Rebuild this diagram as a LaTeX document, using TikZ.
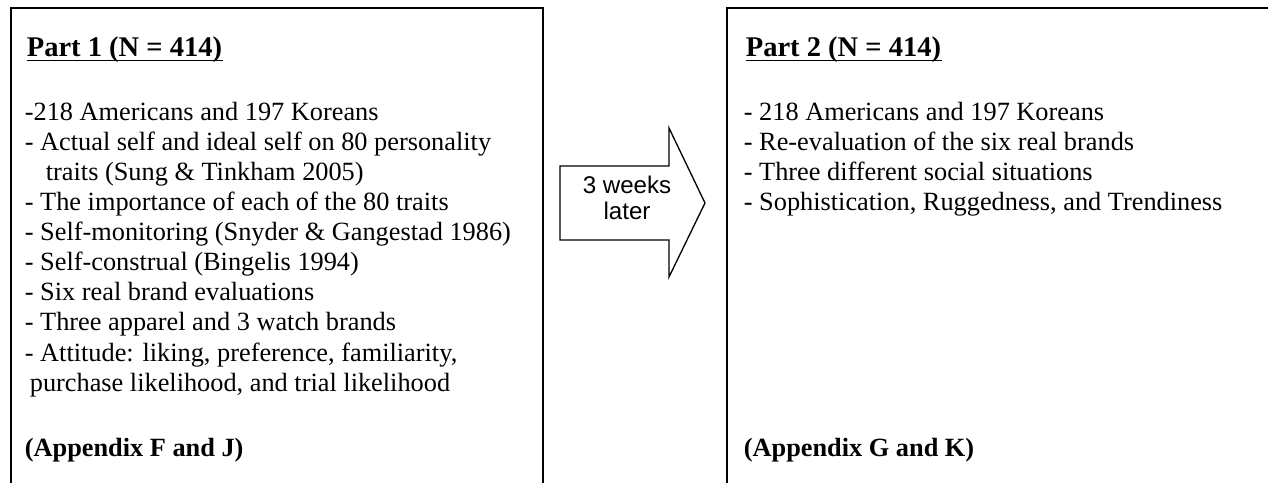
\documentclass[tikz,border=0pt]{standalone}
\usepackage{fontspec}
\setmainfont{Liberation Serif}
\newfontfamily\arialfont{Liberation Sans}
\usetikzlibrary{positioning, calc}

\tikzset{
    parthead/.style={anchor=base west, inner sep=0pt, font=\fontsize{13}{15}\selectfont\bfseries},
    listline/.style={anchor=base west, inner sep=0pt, font=\fontsize{12}{14}\selectfont},
    appendix/.style={listline, font=\fontsize{12}{14}\selectfont\bfseries},
    underbar/.style={line width=0.9pt, shorten <=0.3pt},
}

\begin{document}
\begin{tikzpicture}[x=0.456pt, y=-0.456pt, line width=0.8pt]
    \useasboundingbox (0,0) rectangle (1268,483);
    \clip (0,0) rectangle (1268,483);

    % both boxes run on past the page edge
    \draw (11,8) rectangle (543,520);
    \draw (727,8) rectangle (1300,520);

    % block arrow
    \draw[line width=0.6pt] (560,166) -- (669,166) -- (669,128) -- (705,203)
        -- (669,277) -- (669,240) -- (560,240) -- cycle;
    \node[align=center, inner sep=0pt, font=\arialfont\fontsize{11}{11.9}\selectfont] (lag) at (627,198) {3 weeks\\later};

    % Part 1
    \node[parthead] (part1) at (26,57) {Part 1 (N = 414)};
    \draw[underbar] ([yshift=-1.6pt]part1.base west) -- ([yshift=-1.6pt]part1.base east);
    \foreach \i/\dx/\t in {
        1/0/{-218 Americans and 197 Koreans},
        2/0/{- Actual self and ideal self on 80 personality},
        3/21/{traits (Sung \& Tinkham 2005)},
        4/0/{- The importance of each of the 80 traits},
        5/0/{- Self-monitoring (Snyder \& Gangestad 1986)},
        6/0/{- Self-construal (Bingelis 1994)},
        7/0/{- Six real brand evaluations},
        8/0/{- Three apparel and 3 watch brands},
        9/0/{- Attitude: liking, preference, familiarity,},
        10/5/{purchase likelihood, and trial likelihood}}
        \node[listline] (a\i) at (24+\dx, 91+30*\i) {\t};
    \node[appendix] (app1) at (24,456) {(Appendix F and J)};

    % Part 2
    \node[parthead] (part2) at (745,57) {Part 2 (N = 414)};
    \draw[underbar] ([yshift=-1.6pt]part2.base west) -- ([yshift=-1.6pt]part2.base east);
    \foreach \i/\t in {
        1/{- 218 Americans and 197 Koreans},
        2/{- Re-evaluation of the six real brands},
        3/{- Three different social situations},
        4/{- Sophistication, Ruggedness, and Trendiness}}
        \node[listline] (b\i) at (743, 91+30*\i) {\t};
    \node[appendix] (app2) at (743,456) {(Appendix G and K)};
\end{tikzpicture}
\end{document}
